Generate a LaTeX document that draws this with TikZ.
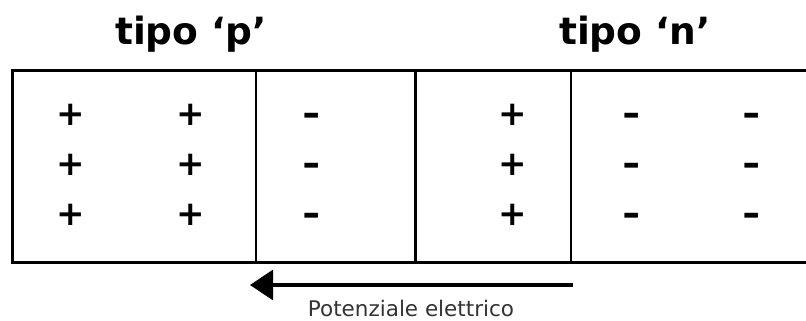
\documentclass[tikz,border=0pt]{standalone}
\usepackage{fontspec}
\setmainfont{DejaVu Sans}
\usetikzlibrary{arrows.meta}
\begin{document}
\begin{tikzpicture}[x=1pt,y=-1pt,
  title/.style={font=\fontsize{37.5}{40}\selectfont\bfseries, inner sep=0pt, anchor=base},
  charge/.style={font=\fontsize{34}{36}\selectfont\bfseries, inner sep=0pt},
  plussign/.style={charge},
  minussign/.style={charge, xscale=1.3},
  thick border/.style={line width=3pt},
  thin border/.style={line width=1.6pt},
  caption/.style={font=\fontsize{21.5}{24}\selectfont, text=black!80, inner sep=0pt, anchor=base}]
\useasboundingbox (0,0) rectangle (806,321);

% headings
\node[title] (tp) at (191,45) {tipo ‘p’};
\node[title] (tn) at (635,45) {tipo ‘n’};

% crystal outline (open on the right side)
\draw[thick border] (806,71) -- (12,71) -- (12,262) -- (806,262);
\draw[thick border] (415,71) -- (415,262);
\draw[thin border] (256,71) -- (256,262);
\draw[thin border] (571,71) -- (571,262);

% charges: every node gets the height of a plus sign so rows line up
\foreach \y [count=\r] in {115,165,215} {
  \node[plussign] (pa\r) at (71,\y) {\vphantom{+}+};
  \node[plussign] (pb\r) at (191,\y) {\vphantom{+}+};
  \node[minussign] (pm\r) at (311.5,\y) {\vphantom{+}-};
  \node[plussign] (np\r) at (513,\y) {\vphantom{+}+};
  \node[minussign] (na\r) at (632,\y) {\vphantom{+}-};
  \node[minussign] (nb\r) at (752,\y) {\vphantom{+}-};
}

% field arrow
\coordinate (arrS) at (573,285);
\coordinate (arrE) at (250,285);
\draw[line width=3.2pt, -{Triangle[length=23pt,width=30pt]}] (arrS) -- (arrE);
\node[caption] (cap) at (411,316.5) {Potenziale elettrico};
\end{tikzpicture}
\end{document}
